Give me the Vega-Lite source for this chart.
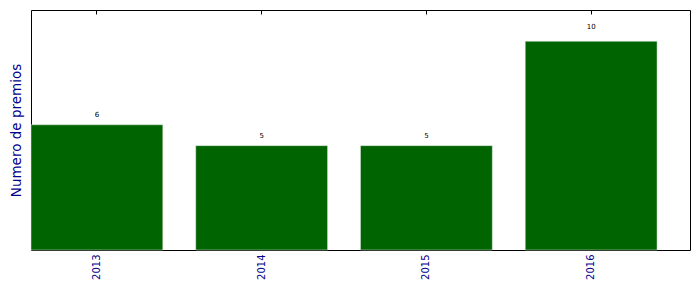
{
  "$schema": "https://vega.github.io/schema/vega-lite/v6.json",
  "width": 659,
  "height": 240,
  "autosize": {"type": "none"},
  "padding": {"left": 31, "top": 10, "right": 9, "bottom": 42},
  "background": "white",
  "config": {
    "font": "DejaVu Sans",
    "view": {"stroke": "black", "strokeWidth": 1}
  },
  "data": {
    "values": [
      {"year": "2013", "premios": 6},
      {"year": "2014", "premios": 5},
      {"year": "2015", "premios": 5},
      {"year": "2016", "premios": 10}
    ]
  },
  "resolve": {"axis": {"x": "independent"}, "scale": {"y": "independent"}},
  "layer": [
    {
      "mark": {"type": "bar", "color": "#006400", "stroke": "#dfe8df", "strokeWidth": 0.5},
      "encoding": {
        "x": {
          "field": "year", "type": "ordinal",
          "scale": {"paddingInner": 0.2, "paddingOuter": 0.1, "align": 0},
          "axis": {
            "orient": "bottom", "title": null, "labelAngle": -90, "labelAlign": "right",
            "labelBaseline": "middle", "labelColor": "#00008B", "labelFontSize": 10,
            "labelPadding": 8, "tickSize": -4, "tickColor": "black", "domain": false, "grid": false
          }
        },
        "y": {
          "field": "premios", "type": "quantitative",
          "scale": {"domain": [0, 11.5], "nice": false},
          "axis": {
            "title": "Numero de premios", "titleColor": "#00008B", "titleFontSize": 13.5,
            "titleFontWeight": "normal", "titlePadding": 8, "labels": false, "ticks": false,
            "domain": false, "grid": false
          }
        }
      }
    },
    {
      "mark": {"type": "text", "baseline": "bottom", "dy": -1, "fontSize": 7, "color": "#000000"},
      "encoding": {
        "x": {
          "field": "year", "type": "ordinal",
          "axis": {"orient": "top", "title": null, "labels": false, "tickSize": -4, "tickColor": "black", "domain": false, "grid": false}
        },
        "y": {
          "field": "premios", "type": "quantitative",
          "scale": {"domain": [0, 10.952], "nice": false, "zero": true},
          "axis": null
        },
        "text": {"field": "premios", "type": "quantitative"}
      }
    }
  ]
}
